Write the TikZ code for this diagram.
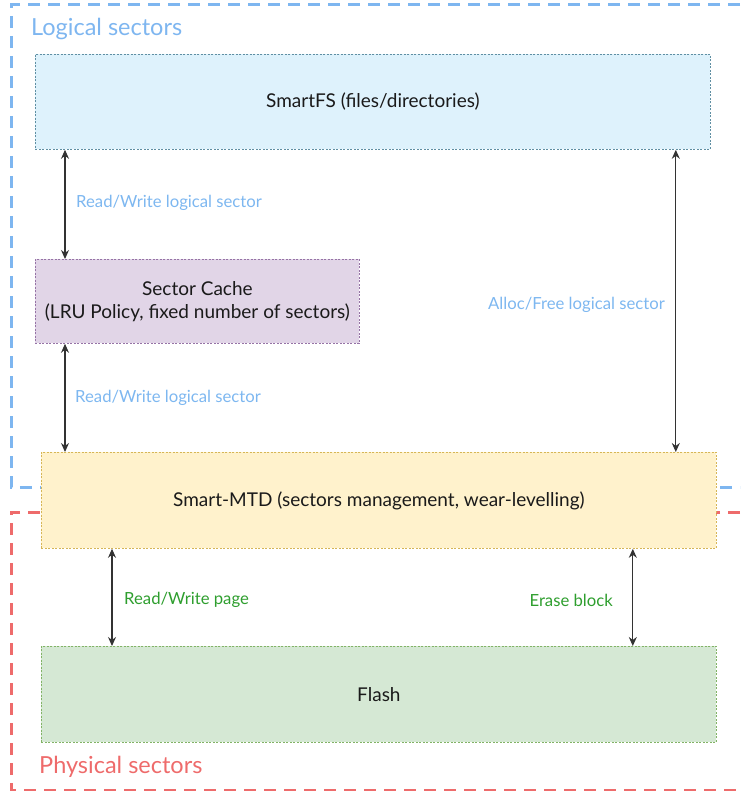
\documentclass[tikz,border=0pt]{standalone}
\usepackage{fontspec}
\setmainfont{Lato}
\usetikzlibrary{arrows.meta}
\definecolor{bluefr}{HTML}{7EB6F0}
\definecolor{redfr}{HTML}{EE6B6B}
\definecolor{lbltxt}{HTML}{7DB7F0}
\definecolor{grtxt}{HTML}{2E9E2E}
\definecolor{fsfill}{HTML}{DEF2FC}
\definecolor{fsdraw}{HTML}{5F8FA3}
\definecolor{cfill}{HTML}{E1D5E7}
\definecolor{cdraw}{HTML}{9673A6}
\definecolor{mfill}{HTML}{FFF2CC}
\definecolor{mdraw}{HTML}{D6B656}
\definecolor{ffill}{HTML}{D5E8D4}
\definecolor{fdraw}{HTML}{82B366}
\definecolor{txt}{HTML}{1A1A1A}
\tikzset{
  frame/.style={line width=3pt, dash pattern=on 12pt off 8pt},
  box/.style={anchor=north west, inner sep=0pt, line width=0.8pt, dash pattern=on 2pt off 1.5pt, align=center, text=txt, font=\fontsize{19}{23}\selectfont},
  biarrow/.style={{Stealth[length=9pt,width=8pt]}-{Stealth[length=9pt,width=8pt]}, line width=1.2pt, draw=black!80},
  lbl/.style={inner sep=0pt, font=\fontsize{16.7}{18}\selectfont},
  title/.style={inner sep=0pt, font=\fontsize{23.5}{25}\selectfont}
}
\begin{document}
\begin{tikzpicture}[x=1pt,y=-1pt]
\useasboundingbox (0,0) rectangle (740,791);
\clip (0,0) rectangle (740,791);
% frames
\draw[frame, draw=redfr] (760,512) -- (11,512) -- (11,790) -- (760,790);
\draw[frame, draw=bluefr] (760,5) -- (11,5) -- (11,487) -- (760,487);
\node[title, text=bluefr, anchor=west] (tl) at (31,29) {Logical sectors};
\node[title, text=redfr, anchor=west] (tp) at (39,767) {Physical sectors};
% boxes
\node[box, fill=fsfill, draw=fsdraw, minimum width=675pt, minimum height=95pt] (fs) at (35,54) {SmartFS (files/directories)};
\node[box, fill=cfill, draw=cdraw, minimum width=324pt, minimum height=84pt] (cache) at (35,259) {Sector Cache\\(LRU Policy, fixed number of sectors)};
\node[box, fill=mfill, draw=mdraw, minimum width=675pt, minimum height=96pt] (mtd) at (41,452) {Smart-MTD (sectors management, wear-levelling)};
\node[box, fill=ffill, draw=fdraw, minimum width=675pt, minimum height=96pt] (flash) at (41,646) {Flash};
% arrows
\draw[biarrow] ([xshift=30pt]fs.south west) -- ([xshift=30pt]cache.north west);
\draw[biarrow] ([xshift=30pt]cache.south west) -- ([xshift=24pt]mtd.north west);
\draw[biarrow] ([xshift=-35pt]fs.south east) -- ([xshift=-41pt]mtd.north east);
\draw[biarrow] ([xshift=71pt]mtd.south west) -- ([xshift=71pt]flash.north west);
\draw[biarrow] ([xshift=-84pt]mtd.south east) -- ([xshift=-84pt]flash.north east);
% labels
\node[lbl, text=lbltxt, anchor=west] (l1) at (76,203) {Read/Write logical sector};
\node[lbl, text=lbltxt, anchor=west] (l2) at (75,398) {Read/Write logical sector};
\node[lbl, text=lbltxt, anchor=west] (l3) at (488,305) {Alloc/Free logical sector};
\node[lbl, text=grtxt, anchor=west] (l4) at (124,600) {Read/Write page};
\node[lbl, text=grtxt, anchor=east] (l5) at (613,600) {Erase block};
\end{tikzpicture}
\end{document}
